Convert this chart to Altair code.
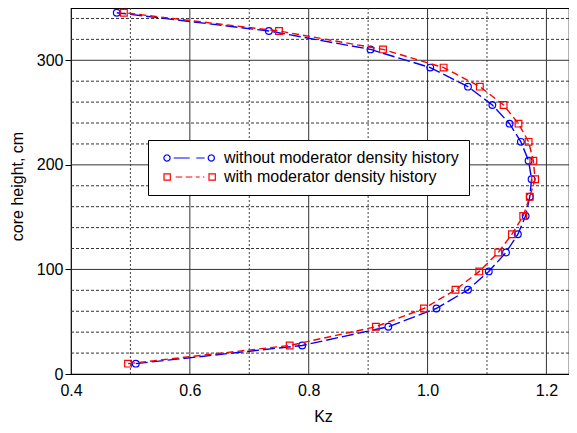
import math
import altair as alt
import pandas as pd

# ---- data ----
heights = [9.9, 27.3, 45.2, 62.7, 80.5, 98.1, 116.2, 133.7, 151.2, 169.5,
           186.2, 204.0, 222.0, 239.4, 257.2, 274.8, 293.0, 310.4, 328.0, 345.5]
kz_without = [0.509, 0.789, 0.934, 1.015, 1.068, 1.103, 1.132, 1.152, 1.165, 1.172,
              1.175, 1.170, 1.157, 1.138, 1.109, 1.068, 1.0045, 0.904, 0.733, 0.477]
kz_with = [0.496, 0.768, 0.913, 0.994, 1.047, 1.087, 1.119, 1.142, 1.161, 1.172,
           1.181, 1.178, 1.170, 1.153, 1.128, 1.088, 1.027, 0.925, 0.750, 0.489]
series_names = ["without moderator density history", "with moderator density history"]
series_colors = ["#0000ff", "#ff0000"]
series_shapes = ["circle", "square"]
series_dashes = [[12, 4], [7, 4]]

x_ticks = [0.4, 0.6, 0.8, 1.0, 1.2]
y_ticks = [0, 100, 200, 300]
major_x = [0.6, 0.8, 1.0, 1.2]
minor_x = [0.5, 0.7, 0.9, 1.1]
major_y = [100, 200, 300]
minor_y = [20, 40, 60, 80, 120, 140, 160, 180, 220, 240, 260, 280, 320, 340]

rows = []
for h, a, b in zip(heights, kz_without, kz_with):
    rows.append({"h": h, "kz": a, "series": series_names[0]})
    rows.append({"h": h, "kz": b, "series": series_names[1]})
df = pd.DataFrame(rows)

FONT = "Liberation Sans"
xs = alt.Scale(domain=[0.4, 1.238], nice=False, zero=False)
ys = alt.Scale(domain=[0, 350], nice=False, zero=False)
color_scale = alt.Scale(domain=series_names, range=series_colors)


# ---- legend symbol paths (marker - dashes - marker), in units of 5px ----
def poly_circle(cx, r, n=16):
    pts = []
    for i in range(n):
        a = 2 * math.pi * i / n
        pts.append(f"{cx + r * math.cos(a):.3f} {r * math.sin(a):.3f}")
    return "M " + " L ".join(pts) + " Z"


def rect(x0, x1, hh):
    return f"M {x0} {-hh} L {x1} {-hh} L {x1} {hh} L {x0} {hh} Z"


path_blue = " ".join([
    poly_circle(0.2, 0.62),
    "M 1.54 0 L 4.74 0 M 6.06 0 L 7.74 0",
    poly_circle(9.06, 0.62),
])
path_red = " ".join([
    rect(-0.4, 0.86, 0.63),
    "M 1.94 0 L 3.26 0 M 3.94 0 L 5.26 0 M 5.94 0 L 6.74 0 M 7.4 0 L 7.66 0",
    rect(8.6, 9.86, 0.63),
])
shape_expr = f"datum.value === '{series_names[0]}' ? '{path_blue}' : '{path_red}'"

legend = alt.Legend(
    title=None, orient="none", legendX=77, legendY=132,
    padding=10, strokeColor="#000", fillColor="#fff", cornerRadius=0,
    labelFont=FONT, labelFontSize=16, labelColor="#000", labelOffset=50, labelLimit=500,
    symbolSize=100, rowPadding=3, symbolStrokeWidth=1.2, symbolOpacity=1,
    symbolType={"expr": shape_expr}, symbolFillColor="transparent",
    symbolDash=[1, 0],
)

x_axis = alt.Axis(
    values=x_ticks, format=".1f", grid=False, ticks=False, domain=False,
    labelFlush=False, labelOverlap=False,
    labelFont=FONT, labelFontSize=16, labelColor="#000", labelPadding=8,
    title="Kz", titleFont=FONT, titleFontSize=16, titleFontWeight="normal",
    titleColor="#000", titleX=252, titleY=47, titleBaseline="alphabetic", titleAlign="center",
)
y_axis = alt.Axis(
    values=y_ticks, format="d", grid=False, ticks=True, tickSize=6, tickColor="#000",
    labelFlush=False, labelOverlap=False,
    domain=False, labelFont=FONT, labelFontSize=16, labelColor="#000", labelPadding=2,
    title="core height, cm", titleFont=FONT, titleFontSize=16, titleFontWeight="normal",
    titleColor="#000", titleX=-54, titleY=178, titleAngle=270,
    titleBaseline="middle", titleAlign="center",
)

# invisible carrier for the legend (first, so its legend settings win)
layers = [alt.Chart(df).mark_point(filled=False, opacity=0).encode(
    x=alt.X("kz:Q", scale=xs, axis=x_axis),
    y=alt.Y("h:Q", scale=ys, axis=y_axis),
    color=alt.Color("series:N", scale=color_scale, legend=legend),
)]

# ---- grid ----
layers += [
    alt.Chart(pd.DataFrame({"v": minor_x})).mark_rule(
        color="#444", strokeWidth=1, strokeDash=[2, 2]).encode(x=alt.X("v:Q", scale=xs, axis=x_axis)),
    alt.Chart(pd.DataFrame({"v": minor_y})).mark_rule(
        color="#333", strokeWidth=1, strokeDash=[3, 2]).encode(y=alt.Y("v:Q", scale=ys, axis=y_axis)),
    alt.Chart(pd.DataFrame({"v": major_x})).mark_rule(
        color="#333", strokeWidth=1).encode(x=alt.X("v:Q", scale=xs, axis=x_axis)),
    alt.Chart(pd.DataFrame({"v": major_y})).mark_rule(
        color="#333", strokeWidth=1).encode(y=alt.Y("v:Q", scale=ys, axis=y_axis)),
]

for name, shape, dash in zip(series_names, series_shapes, series_dashes):
    base = alt.Chart(df).transform_filter(alt.datum.series == name)
    layers.append(base.mark_line(strokeWidth=1.4, strokeDash=dash).encode(
        x=alt.X("kz:Q", scale=xs, axis=x_axis),
        y=alt.Y("h:Q", scale=ys, axis=y_axis),
        order=alt.Order("h:Q"),
        color=alt.Color("series:N", scale=color_scale),
    ))
    layers.append(base.mark_point(filled=False, strokeWidth=1.2, size=45, opacity=1, shape=shape).encode(
        x=alt.X("kz:Q", scale=xs, axis=x_axis),
        y=alt.Y("h:Q", scale=ys, axis=y_axis),
        color=alt.Color("series:N", scale=color_scale),
    ))

chart = alt.layer(*layers).properties(
    width=498, height=366,
    autosize=alt.AutoSizeParams(type="none"),
    padding={"left": 63, "top": 0, "right": 0, "bottom": 51},
    background="#ffffff",
).configure_view(stroke="#000", strokeWidth=1.2)

chart.save("out.html", embed_options={"renderer": "svg", "actions": False})
